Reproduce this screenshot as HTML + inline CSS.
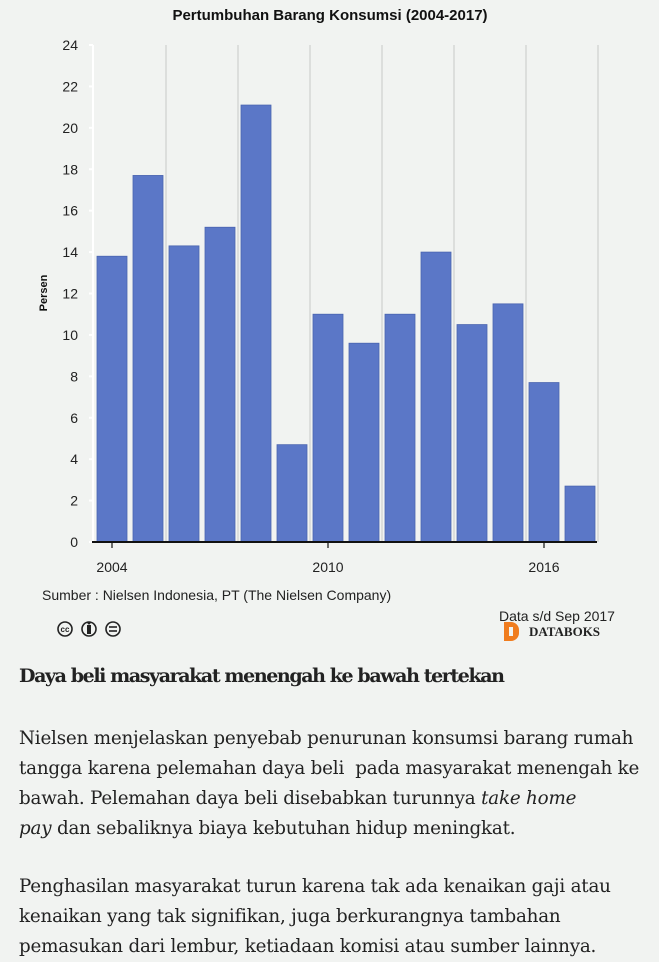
<!DOCTYPE html>
<html><head><meta charset="utf-8"><style>
body{margin:0;width:659px;height:960px;background:#f1f3f1;overflow:hidden;font-family:"Liberation Sans",sans-serif}
.p{position:absolute;left:19px;width:640px;font-family:"DejaVu Serif","Liberation Serif",serif;color:#222;font-size:18.3px;line-height:30px;letter-spacing:-0.2px}
</style></head><body>
<svg id="chart" width="659" height="650" style="position:absolute;left:0;top:0">
<text x="330" y="20" text-anchor="middle" font-size="15" font-weight="bold" fill="#111">Pertumbuhan Barang Konsumsi (2004-2017)</text>
<text transform="translate(47,293) rotate(-90)" text-anchor="middle" font-size="11" font-weight="bold" fill="#111">Persen</text>
<g id="grid"></g><g id="bars"></g><g id="axes"></g>
<text x="42" y="600" font-size="14" fill="#222">Sumber : Nielsen Indonesia, PT (The Nielsen Company)</text>
<text x="499" y="621" font-size="14" fill="#222">Data s/d Sep 2017</text>
<g fill="none" stroke="#222" stroke-width="1.6">
<circle cx="65" cy="629" r="7"/><circle cx="89" cy="629" r="7"/><circle cx="113" cy="629" r="7"/>
<text x="65" y="632" font-size="8" fill="#222" stroke="none" text-anchor="middle" font-weight="bold">cc</text>
<rect x="87" y="625" width="4" height="9" fill="#222" stroke="none"/><circle cx="89" cy="623" r="1.5" fill="#222" stroke="none"/>
<line x1="109" y1="627" x2="117" y2="627"/><line x1="109" y1="631" x2="117" y2="631"/>
</g>
<g>
<path d="M504 622h7a8 8 0 0 1 8 8v3a8 8 0 0 1-8 8h-7z" fill="#f07c1e"/>
<rect x="509" y="627" width="4" height="9" fill="#f1f3f1"/>
<text x="529" y="636" font-size="13" font-weight="bold" fill="#222" font-family="Liberation Serif,serif">DATABOKS</text>
</g>
</svg>
<div class="p" style="top:661px;font-size:19px;font-weight:bold;letter-spacing:-1.4px">Daya beli masyarakat menengah ke bawah tertekan</div>
<div class="p" style="top:724px">Nielsen menjelaskan penyebab penurunan konsumsi barang rumah<br>tangga karena pelemahan daya beli&nbsp; pada masyarakat menengah ke<br>bawah. Pelemahan daya beli disebabkan turunnya <i>take home<br>pay</i> dan sebaliknya biaya kebutuhan hidup meningkat.</div>
<div class="p" style="top:872px">Penghasilan masyarakat turun karena tak ada kenaikan gaji atau<br>kenaikan yang tak signifikan, juga berkurangnya tambahan<br>pemasukan dari lembur, ketiadaan komisi atau sumber lainnya.</div>
<script>
const years=[2004,2005,2006,2007,2008,2009,2010,2011,2012,2013,2014,2015,2016,2017];
const values=[13.8,17.7,14.3,15.2,21.1,4.7,11.0,9.6,11.0,14.0,10.5,11.5,7.7,2.7];
const yTicks=[0,2,4,6,8,10,12,14,16,18,20,22,24];
const xTicks=[2004,2010,2016];
const NS="http://www.w3.org/2000/svg";
const x0=112,step=36,bw=30,yb=542,yt=45;
const X=yr=>x0+(yr-2004)*step;
const Y=v=>yb-(v/24)*(yb-yt);
function mk(t,a,p){const e=document.createElementNS(NS,t);for(const k in a)e.setAttribute(k,a[k]);p.appendChild(e);return e;}
const grid=document.getElementById('grid'),bars=document.getElementById('bars'),axes=document.getElementById('axes');
for(let i=0;i<7;i++){const gx=X(2005.5+2*i);
const l=mk('line',{x1:gx,x2:gx,y1:yt,y2:yb,stroke:'#c8c8c8','stroke-width':1},grid);

}
mk('line',{x1:93,x2:93,y1:yt,y2:yb,stroke:'#fff','stroke-width':2},grid);
yTicks.forEach(t=>{
const tx=mk('text',{x:78,y:Y(t)+5,'text-anchor':'end','font-size':14,fill:'#222'},axes);tx.textContent=t;


mk('line',{x1:89,x2:93,y1:Y(t),y2:Y(t),stroke:'#fff','stroke-width':2},axes);});
years.forEach((yr,i)=>{
const r=mk('rect',{x:X(yr)-bw/2,y:Y(values[i]),width:bw,height:yb-Y(values[i]),fill:'#5b77c7',stroke:'#4a64b0','stroke-width':0.8},bars);

});
mk('line',{x1:92,x2:597,y1:yb,y2:yb,stroke:'#111','stroke-width':2},axes);
xTicks.forEach(t=>{mk('line',{x1:X(t),x2:X(t),y1:yb,y2:yb+6,stroke:'#111','stroke-width':1.2},axes);
const tx=mk('text',{x:X(t),y:yb+30,'text-anchor':'middle','font-size':14,fill:'#222'},axes);tx.textContent=t;

});
</script>
</body></html>
